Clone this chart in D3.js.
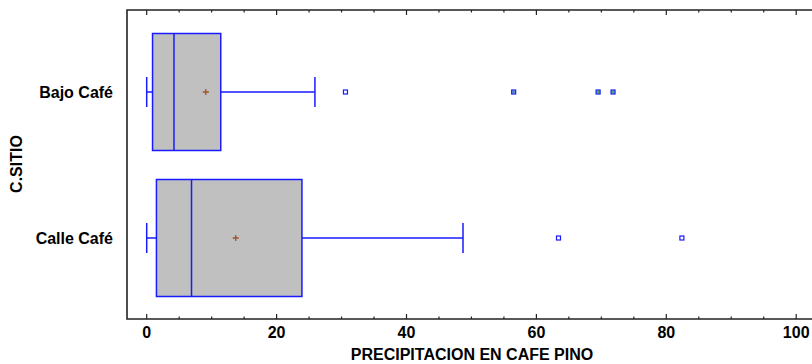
<!DOCTYPE html>
<head>
  <meta charset="utf-8">
  <script src="https://d3js.org/d3.v7.min.js"></script>
  <style>
    body { margin: 0; background: white; }
    text { font-family: "Liberation Sans", Arial, sans-serif; font-weight: bold; fill: #000; }
  </style>
</head>

<body>
  <svg width="812" height="364"></svg>

  <script>
    // data
    const sites = ['Bajo Café', 'Calle Café'];
    const whiskerLow = [0, 0];
    const q1 = [0.9, 1.5];
    const median = [4.2, 6.9];
    const q3 = [11.4, 23.9];
    const whiskerHigh = [25.9, 48.7];
    const means = [9.1, 13.7];
    const outliers = [[30.6], [63.4, 82.4]];
    const farOutliers = [[56.5, 69.5, 71.8], []];
    const xTicks = [0, 20, 40, 60, 80, 100];

    const svg = d3.select('svg');
    const plotLeft = 127, plotRight = 812, plotTop = 10, plotBottom = 319;

    const x = d3.scaleLinear().domain([0, 100]).range([146.7, 796.2]);
    const y = d3.scalePoint().domain(sites).range([92, 238]);
    const boxH = 117;

    const g = svg.append('g');

    // frame: left, top, bottom
    g.append('path')
      .attr('d', `M${plotRight},${plotTop}H${plotLeft}V${plotBottom}H${plotRight}`)
      .attr('fill', 'none').attr('stroke', '#222').attr('stroke-width', 1.6);

    // ticks inside on top and bottom
    d3.range(0, 101, 5).forEach(v => {
      const len = v % 20 === 0 ? 5 : 2.5;
      g.append('line').attr('x1', x(v)).attr('x2', x(v))
        .attr('y1', plotTop).attr('y2', plotTop + len).attr('stroke', '#222').attr('stroke-width', 1.2);
      g.append('line').attr('x1', x(v)).attr('x2', x(v))
        .attr('y1', plotBottom).attr('y2', plotBottom - len).attr('stroke', '#222').attr('stroke-width', 1.2);
    });

    g.selectAll('.xlab').data(xTicks).enter().append('text')
      .attr('x', d => x(d)).attr('y', 338)
      .attr('text-anchor', 'middle').attr('font-size', 16).attr('font-weight', 'bold')
      .text(d => d);

    svg.append('text').attr('x', 472).attr('y', 360)
      .attr('text-anchor', 'middle').attr('font-size', 16).attr('font-weight', 'bold')
      .text('PRECIPITACION EN CAFE PINO');

    svg.append('text').attr('transform', 'translate(21.5,164) rotate(-90)')
      .attr('text-anchor', 'middle').attr('font-size', 16).attr('font-weight', 'bold')
      .text('C.SITIO');

    g.selectAll('.ylab').data(sites).enter().append('text')
      .attr('x', 113).attr('y', d => y(d) + 5.5)
      .attr('text-anchor', 'end').attr('font-size', 16).attr('font-weight', 'bold')
      .text(d => d);

    const blue = '#1a1aff';
    sites.forEach((s, i) => {
      const cy = y(s);
      // whiskers
      g.append('line').attr('x1', x(whiskerLow[i])).attr('x2', x(q1[i]))
        .attr('y1', cy).attr('y2', cy).attr('stroke', blue).attr('stroke-width', 1.5);
      g.append('line').attr('x1', x(q3[i])).attr('x2', x(whiskerHigh[i]))
        .attr('y1', cy).attr('y2', cy).attr('stroke', blue).attr('stroke-width', 1.5);
      [whiskerLow[i], whiskerHigh[i]].forEach(v => {
        g.append('line').attr('x1', x(v)).attr('x2', x(v))
          .attr('y1', cy - 15).attr('y2', cy + 15).attr('stroke', blue).attr('stroke-width', 1.5);
      });
      // box
      g.append('rect').attr('x', x(q1[i])).attr('y', cy - boxH / 2)
        .attr('width', x(q3[i]) - x(q1[i])).attr('height', boxH)
        .attr('fill', '#c0c0c0').attr('stroke', blue).attr('stroke-width', 1.5);
      g.append('line').attr('x1', x(median[i])).attr('x2', x(median[i]))
        .attr('y1', cy - boxH / 2).attr('y2', cy + boxH / 2).attr('stroke', blue).attr('stroke-width', 1.5);
      // mean
      const mx = x(means[i]);
      g.append('path').attr('d', `M${mx - 3},${cy}H${mx + 3}M${mx},${cy - 3}V${cy + 3}`)
        .attr('stroke', '#a0522d').attr('stroke-width', 1.3);
      // outliers
      outliers[i].forEach(v => {
        g.append('rect').attr('x', x(v) - 2).attr('y', cy - 2).attr('width', 4).attr('height', 4)
          .attr('fill', 'white').attr('stroke', blue).attr('stroke-width', 1.2);
      });
      farOutliers[i].forEach(v => {
        g.append('rect').attr('x', x(v) - 2).attr('y', cy - 2).attr('width', 4).attr('height', 4)
          .attr('fill', '#7fa8d8').attr('stroke', blue).attr('stroke-width', 1.2);
        g.append('line').attr('x1', x(v)).attr('x2', x(v)).attr('y1', cy - 2).attr('y2', cy + 2)
          .attr('stroke', '#2e9e2e').attr('stroke-width', 1.2);
      });
    });
  </script>
</body>
